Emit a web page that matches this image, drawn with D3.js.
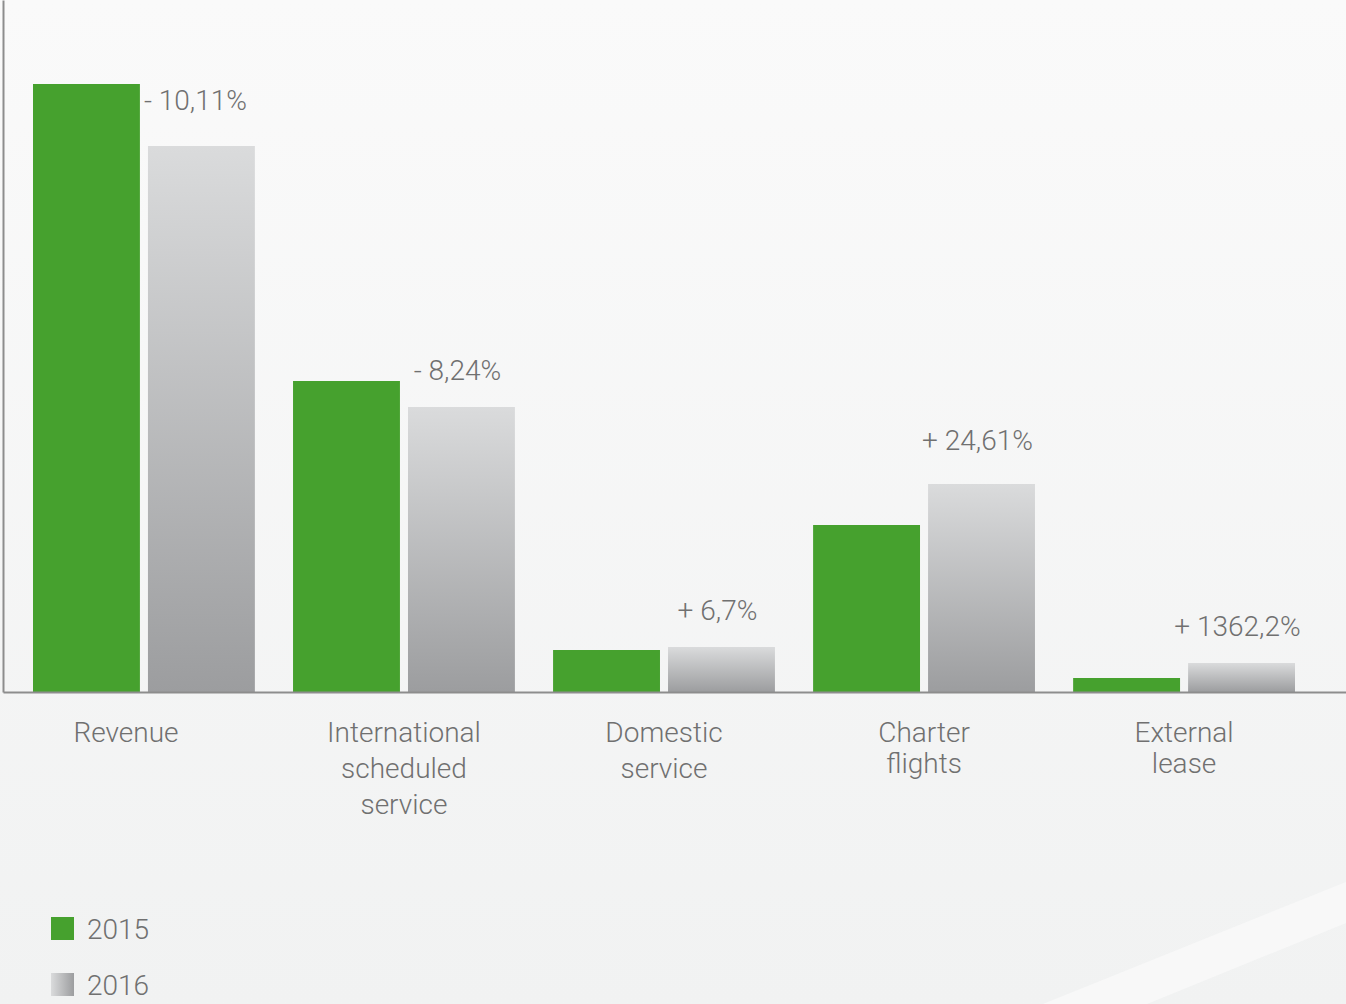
<!DOCTYPE html>
<html>
<head>
<meta charset="utf-8">
<script src="https://cdn.jsdelivr.net/npm/d3@7"></script>
<style>
  html, body { margin: 0; padding: 0; background: #f5f5f5; }
  svg { display: block; }
  text { font-family: Roboto, "Liberation Sans", Arial, sans-serif; font-weight: 300; fill: #707070; }
</style>
</head>
<body>
<svg id="chart" width="1346" height="1004"></svg>
<script>
// ---- data ----
const categories = ["Revenue", "International scheduled service", "Domestic service", "Charter flights", "External lease"];
const categoryLines = [["Revenue"], ["International", "scheduled", "service"], ["Domestic", "service"], ["Charter", "flights"], ["External", "lease"]];
const series = ["2015", "2016"];
const values2015 = [608, 311, 42, 167, 14];
const values2016 = [546, 285, 45, 208, 29];
const changeLabels = ["- 10,11%", "- 8,24%", "+ 6,7%", "+ 24,61%", "+ 1362,2%"];

// ---- layout ----
const W = 1346, H = 1004;
const svg = d3.select("#chart");
const defs = svg.append("defs");

const bg = defs.append("linearGradient").attr("id", "bg").attr("x1", 0).attr("y1", 0).attr("x2", 0).attr("y2", 1);
bg.append("stop").attr("offset", "0%").attr("stop-color", "#fafafa");
bg.append("stop").attr("offset", "100%").attr("stop-color", "#f1f2f2");

const grayV = defs.append("linearGradient").attr("id", "grayV").attr("x1", 0).attr("y1", 0).attr("x2", 0).attr("y2", 1);
grayV.append("stop").attr("offset", "0%").attr("stop-color", "#dadbdc");
grayV.append("stop").attr("offset", "100%").attr("stop-color", "#9c9d9f");

const grayH = defs.append("linearGradient").attr("id", "grayH").attr("x1", 0).attr("y1", 0).attr("x2", 1).attr("y2", 0);
grayH.append("stop").attr("offset", "0%").attr("stop-color", "#dadbdc");
grayH.append("stop").attr("offset", "100%").attr("stop-color", "#9c9d9f");

svg.append("rect").attr("width", W).attr("height", H).attr("fill", "url(#bg)");
// decorative diagonal stripe bottom-right
svg.append("polygon")
  .attr("points", "1043,1004 1346,882 1346,923 1147,1004")
  .attr("fill", "#f8f8f8");

const baseY = 692;
const x0 = d3.scaleBand().domain(categories).range([33, 1295]).paddingInner(0.1468).paddingOuter(0);
const x1 = d3.scaleBand().domain(series).range([0, x0.bandwidth()]).paddingInner(0.07);
const y = d3.scaleLinear().domain([0, 692]).range([baseY, 0]);

const colors = { "2015": "#46a12e", "2016": "url(#grayV)" };
const data = categories.map((c, i) => ({ cat: c, i, vals: [ {s: "2015", v: values2015[i]}, {s: "2016", v: values2016[i]} ] }));

const g = svg.append("g");
const groups = g.selectAll("g.grp").data(data).join("g")
  .attr("class", "grp")
  .attr("transform", d => `translate(${x0(d.cat)},0)`);

groups.selectAll("rect").data(d => d.vals).join("rect")
  .attr("x", d => x1(d.s))
  .attr("width", x1.bandwidth())
  .attr("y", d => y(d.v))
  .attr("height", d => baseY - y(d.v))
  .attr("fill", d => colors[d.s]);

// change labels
groups.append("text")
  .attr("font-size", 28)
  .attr("text-anchor", d => d.i === 0 ? "start" : "middle")
  .attr("x", d => d.i === 0 ? x1("2015") + x1.bandwidth() + 4 : x1("2016") + x1.bandwidth() / 2 - 4)
  .attr("y", d => d.i === 0 ? y(values2015[0]) + 26 : y(values2016[d.i]) - (d.i === 3 ? 34 : 27))
  .text(d => changeLabels[d.i]);

// axes lines
const axisX = d3.axisBottom(d3.scaleLinear().range([3, W])).ticks(0).tickSizeOuter(0);
const gx = svg.append("g").attr("transform", `translate(0,${baseY})`).call(axisX);
gx.select(".domain").attr("stroke", "#8d8d8d").attr("stroke-width", 2);
const axisY = d3.axisLeft(d3.scaleLinear().range([0, baseY])).ticks(0).tickSizeOuter(0);
const gy = svg.append("g").attr("transform", `translate(3,0)`).call(axisY);
gy.select(".domain").attr("stroke", "#8d8d8d").attr("stroke-width", 2);

// category labels
groups.append("text")
  .attr("font-size", 28)
  .attr("text-anchor", "middle")
  .attr("transform", d => `translate(${x0.bandwidth() / 2 - (d.i === 0 ? 18 : 0)},742)`)
  .selectAll("tspan").data(d => categoryLines[d.i].map(t => ({t, n: categoryLines[d.i].length}))).join("tspan")
  .attr("x", 0)
  .attr("dy", (d, j) => j === 0 ? 0 : (d.n === 3 ? 36 : (d.t === "service" ? 36 : 31)))
  .text(d => d.t);

// legend
const legend = svg.append("g").attr("transform", "translate(51,917)");
const li = legend.selectAll("g").data(series).join("g").attr("transform", (d, i) => `translate(0,${i * 56})`);
li.append("rect").attr("width", 23).attr("height", 23)
  .attr("fill", d => d === "2015" ? "#46a12e" : "url(#grayH)");
li.append("text").attr("x", 36).attr("y", 22).attr("font-size", 28).text(d => d);
</script>
</body>
</html>
